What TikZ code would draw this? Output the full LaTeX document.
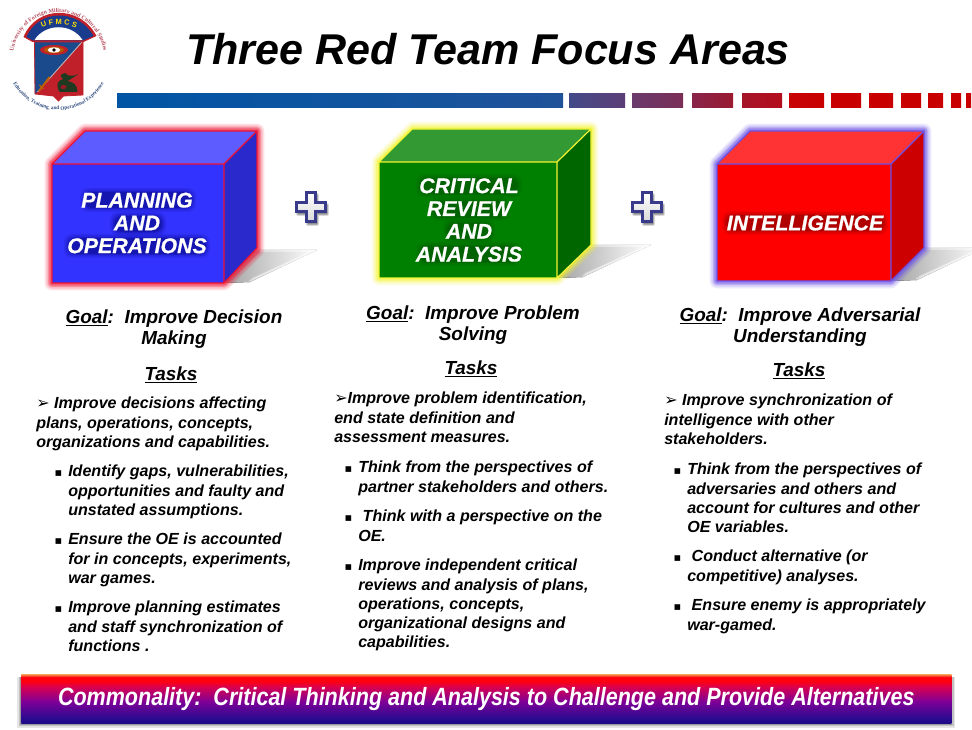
\documentclass[tikz,border=0pt]{standalone}
\usepackage{graphicx}
\usepackage{fontspec}
\setmainfont{Liberation Sans}
\newfontfamily\symf{DejaVu Sans}
\newfontfamily\logof{Liberation Serif}
\newfontface\cubeface{Liberation Sans Bold Italic}[FakeBold=0.6]
\usetikzlibrary{decorations.text}
\definecolor{bluefront}{HTML}{3333FF}\definecolor{bluetop}{HTML}{5C5CFF}\definecolor{blueside}{HTML}{2A2ACC}
\definecolor{greenfront}{HTML}{008000}\definecolor{greentop}{HTML}{339933}\definecolor{greenside}{HTML}{006600}
\definecolor{redfront}{HTML}{FF0000}\definecolor{redtop}{HTML}{FF3333}\definecolor{redside}{HTML}{CC0000}
\definecolor{edgeblue}{HTML}{6A50E8}\definecolor{edgeyellow}{HTML}{F4F430}\definecolor{edgered}{HTML}{F01030}
\definecolor{plusnavy}{HTML}{3A3A8C}
\definecolor{ban0}{HTML}{1E0A88}\definecolor{ban1}{HTML}{2E0A90}\definecolor{ban2}{HTML}{7E0098}
\definecolor{ban3}{HTML}{D80050}\definecolor{ban4}{HTML}{FF0010}\definecolor{ban5}{HTML}{F59A50}
\definecolor{logoblue}{HTML}{1A4A8C}\definecolor{logored}{HTML}{C0202A}\definecolor{logoarch}{HTML}{1A3C8C}
\definecolor{logoring}{HTML}{B85060}\definecolor{logolow}{HTML}{2F4C80}\definecolor{logogreen}{HTML}{1F3A20}
\pgfdeclareverticalshading{bannershade}{100bp}{
 color(0bp)=(ban0);
 color(25bp)=(ban0);
 color(31bp)=(ban1);
 color(47bp)=(ban2);
 color(62bp)=(ban3);
 color(68bp)=(ban4);
 color(72bp)=(ban4);
 color(75bp)=(ban5);
 color(100bp)=(ban5)}
\newcommand{\symb}[1]{{\symf\upshape\fontsize{12}{10}\selectfont #1}}
\newcommand{\subit}{\llap{{\symf\upshape\fontsize{8.5}{10}\selectfont ▪}\hspace{4.5pt}}}
\tikzset{
 bodytext/.style={anchor=north west,align=left,inner sep=0pt,font=\fontsize{12.05}{14.4}\selectfont\bfseries\itshape},
 goaltext/.style={align=center,inner sep=0pt,font=\fontsize{14.2}{16.2}\selectfont\bfseries\itshape},
 cubetext/.style={align=center,inner sep=0pt,text=white,font=\cubeface\fontsize{16}{17.1}\selectfont},
 segment/.style={draw=none}
}
% cube glow and faces: x0 y0 (front top-left), x1 y1 (front bottom-right), dx dy back offset, colours front/top/edge
\newcommand{\cube}[9]{%
 \fill[left color=gray!72,right color=white,draw=none] (#3,#4) -- (#3+#5,#4-#6) -- (#3+#5+60,#4-#6) -- (#3+26,#4-1) -- cycle;
 \draw[white,opacity=.4,line width=3pt] (#3+26,#4-1) -- (#3+#5+60,#4-#6) -- (#3+#5,#4-#6);
 \draw[white,opacity=.3,line width=1.5pt] (#3+28,#4-4) -- (#3+#5+58,#4-#6+1);
 \foreach \w/\o in {11/.12,8.5/.18,6/.25,4/.4}
  \draw[#9,line width=\w,opacity=\o,line join=round] (#1,#2) -- (#1+#5,#2-#6) -- (#3+#5,#2-#6) -- (#3+#5,#4-#6) -- (#3,#4) -- (#1,#4) -- cycle;
 \fill[#7] (#1,#2) rectangle (#3,#4);
 \fill[#8] (#1,#2) -- (#1+#5,#2-#6) -- (#3+#5,#2-#6) -- (#3,#2) -- cycle;
}
\newcommand{\band}[5]{% cx cy halfw halfh colour
 \foreach \g/\o in {5/.10,3.5/.14,2/.2,.8/.28}
  \fill[#5,opacity=\o,rounded corners=6] (#1-#3-\g,#2-#4-\g) rectangle (#1+#3+\g,#2+#4+\g);
}
\newcommand{\plusshape}{(-4.5,-14.5) -- (4.5,-14.5) -- (4.5,-4.5) -- (14.5,-4.5) -- (14.5,4.5) -- (4.5,4.5) -- (4.5,14.5) -- (-4.5,14.5) -- (-4.5,4.5) -- (-14.5,4.5) -- (-14.5,-4.5) -- (-4.5,-4.5) -- cycle}
\newcommand{\plusmark}[2]{%
 \begin{scope}[shift={(#1,#2)}]
 \begin{scope}[shift={(1.5,2.5)}]
 \draw[gray,opacity=.3,line width=3pt,line join=round,fill=gray] \plusshape;
 \draw[gray,opacity=.5,line width=1.5pt,line join=round,fill=gray] \plusshape;
 \end{scope}
 \draw[plusnavy,line width=1.6pt,top color=white,bottom color=gray!30,line join=miter] \plusshape;
 \end{scope}}
\begin{document}
\begin{tikzpicture}[x=0.75pt,y=-0.75pt]
\useasboundingbox[fill=white] (0,0) rectangle (972,730);

% ---------- logo
\begin{scope}[shift={(58.5,58)},x=0.75pt,y=0.75pt]
 \path[decorate,decoration={text along path,text align=center,
   text={|\logof\bfseries\fontsize{4.4}{6}\selectfont\color{logoring}|University of Foreign Military and Cultural Studies}}]
   (178:45.5) arc (178:2:45.5);
 \path[decorate,decoration={text along path,text align=center,
   text={|\logof\bfseries\fontsize{3.9}{6}\selectfont\color{logolow}|Education, Training, and Operational Experience}}]
   (200:52) arc (200:340:52);
 % arch
 \fill[logored] (-35,21) .. controls (-22,53) and (22,53) .. (38,22) -- (25,16) -- (-26,16) -- cycle;
 \fill[logoarch] (-32,21) .. controls (-20,49.5) and (20,49.5) .. (35,22) -- (24.5,17.5) -- (-25.5,17.5) -- cycle;
 \fill[white] (-24,18) .. controls (-13,35) and (13,35) .. (24,18) -- cycle;
 \path[decorate,decoration={text along path,text align=center,
   text={|\bfseries\fontsize{5.6}{6}\selectfont\color{yellow!80!orange}|U F M C S}}]
   (-24,26) .. controls (-10,36) and (10,36) .. (25,26);
 % shield
 \fill[logored] (-24,16) -- (24.5,16) -- (24.5,-37) -- (5,-38) -- (0,-43) -- (-5,-38) -- (-23.5,-36) -- cycle;
 \fill[logoblue] (-24,16) -- (23.5,16) -- (-23.5,-36) -- cycle;
 \draw[gray!50,line width=.6pt] (23.5,16) -- (-21,-34);
 \draw[logored,line width=.6pt] (-24,16) -- (24.5,16) -- (24.5,-37) -- (5,-38) -- (0,-43) -- (-5,-38) -- (-23.5,-36) -- cycle;
 \fill[logored] (-4.5,8) ellipse (14 and 5);
 \fill[orange!70!black] (-4.5,8) ellipse (10 and 3.3);
 \fill[white] (-4.5,8) ellipse (6.5 and 2.6);
 \fill[black] (-4.5,8) circle (1.9);
 \fill[logogreen] (1,-34) .. controls (-3,-27) and (-1,-22) .. (5,-21) .. controls (1,-19) and (1,-16) .. (7,-15) .. controls (8,-18) and (14,-19) .. (20,-16) .. controls (14,-20) and (11,-22) .. (9,-23) .. controls (15,-24) and (19,-27) .. (19,-34) -- cycle;
 \fill[logored!80!black] (5,-29) ellipse (3 and 2);
 \draw[orange!75!black,line width=1.4pt] (-19.5,-33) -- (-9,-19);
 \draw[orange!75!black,line width=1pt] (-15,-31) -- (-19,-27);
\end{scope}

% ---------- title
\node[inner sep=0pt,font=\fontsize{32.3}{38}\selectfont\bfseries\itshape] (title) at (488,49) {Three Red Team Focus Areas};

% ---------- header bar
\foreach \a/\b/\ca/\cb in {
 117/563/0055A5/1F5299,
 569/625/434A88/5C3E76,
 632/683/6A3A6C/7A2E56,
 692/733/88244A/9A1A30,
 742/782/A51528/B50D1C,
 789/824/C80505/C80000,
 831/861/C80000/C80000,
 869/893/C80000/C80000,
 901/921/C80000/C80000,
 928/943/C80000/C80000,
 951/961/C80000/C80000,
 966/971/C80000/C80000}{
 \definecolor{sa}{HTML}{\ca}\definecolor{sb}{HTML}{\cb}
 \fill[segment,left color=sa,right color=sb] (\a,94) rectangle (\b,108);
}

% ---------- cubes
\cube{52}{164}{224}{283}{33}{33}{bluefront}{bluetop}{edgered}
\fill[blueside] (224,164) -- (257,131) -- (257,248) -- (224,283) -- cycle;
\draw[edgered,line width=.9pt,line join=round] (52,164) -- (85,131) -- (257,131) -- (257,248) -- (224,283) -- (52,283) -- cycle (52,164) -- (224,164) -- (257,131) (224,164) -- (224,283);

\cube{379}{162}{557}{278}{34}{33}{greenfront}{greentop}{edgeyellow}
\fill[greenside] (557,162) -- (591,129) -- (591,245) -- (557,278) -- cycle;
\draw[edgeyellow,line width=.9pt,line join=round] (379,162) -- (412,129) -- (591,129) -- (591,245) -- (557,278) -- (379,278) -- cycle (379,162) -- (557,162) -- (591,129) (557,162) -- (557,278);

\cube{717}{164}{891}{281}{33}{33}{redfront}{redtop}{edgeblue}
\fill[redside] (891,164) -- (924,131) -- (924,248) -- (891,281) -- cycle;
\draw[edgeblue,line width=.9pt,line join=round] (717,164) -- (750,131) -- (924,131) -- (924,248) -- (891,281) -- (717,281) -- cycle (717,164) -- (891,164) -- (924,131) (891,164) -- (891,281);

% ---------- halos and cube labels
\band{138}{200}{53}{7}{blue!45!black}
\band{138}{224}{23}{7}{blue!45!black}
\band{137}{246}{68}{7}{blue!45!black}
\node[cubetext] (plan) at (137,223) {PLANNING\\AND\\OPERATIONS};

\band{469}{186}{48}{7}{black!70!green}
\band{469}{209}{36}{7}{black!70!green}
\band{469}{231}{21}{7}{black!70!green}
\band{469}{254}{48}{7}{black!70!green}
\node[cubetext] (crit) at (469,220) {CRITICAL\\REVIEW\\AND\\ANALYSIS};

\band{805}{223}{78}{7}{red!45!black}
\node[cubetext] (intel) at (805,223) {INTELLIGENCE};

% ---------- plus signs
\plusmark{311}{207}
\plusmark{647}{207}

% ---------- column 1
\node[goaltext] (goal1) at (174,329) {\underline{Goal}:\ \ Improve Decision\\Making};
\node[goaltext] (tasks1) at (171,375) {\underline{Tasks}};
\node[bodytext] (a1) at (36,397) {\symb{➢} Improve decisions affecting\\plans, operations, concepts,\\organizations and capabilities.};
\node[bodytext] (a2) at (68,465) {\subit Identify gaps, vulnerabilities,\\opportunities and faulty and\\unstated assumptions.};
\node[bodytext] (a3) at (68,533) {\subit Ensure the OE is accounted\\for in concepts, experiments,\\war games.};
\node[bodytext] (a4) at (68,601) {\subit Improve planning estimates\\and staff synchronization of\\functions .};

% ---------- column 2
\node[goaltext] (goal2) at (473,325) {\underline{Goal}:\ \ Improve Problem\\Solving};
\node[goaltext] (tasks2) at (471,369) {\underline{Tasks}};
\node[bodytext] (b1) at (334,392) {\symb{➢}Improve problem identification,\\end state definition and\\assessment measures.};
\node[bodytext] (b2) at (358,461) {\subit Think from the perspectives of\\partner stakeholders and others.};
\node[bodytext] (b3) at (358,510) {\subit\ Think with a perspective on the\\OE.};
\node[bodytext] (b4) at (358,559) {\subit Improve independent critical\\reviews and analysis of plans,\\operations, concepts,\\organizational designs and\\capabilities.};

% ---------- column 3
\node[goaltext] (goal3) at (800,327) {\underline{Goal}:\ \ Improve Adversarial\\Understanding};
\node[goaltext] (tasks3) at (799,371) {\underline{Tasks}};
\node[bodytext] (c1) at (664,394) {\symb{➢} Improve synchronization of\\intelligence with other\\stakeholders.};
\node[bodytext] (c2) at (687,463) {\subit Think from the perspectives of\\adversaries and others and\\account for cultures and other\\OE variables.};
\node[bodytext] (c3) at (687,550) {\subit\ Conduct alternative (or\\competitive) analyses.};
\node[bodytext] (c4) at (687,599) {\subit\ Ensure enemy is appropriately\\war-gamed.};

% ---------- banner
\foreach \g/\o in {4/.10,2.5/.15,1/.2}
 \fill[black,opacity=\o] (21-\g,677) rectangle (951+\g,724+\g);
\node[minimum width=697.5pt,minimum height=36.75pt,inner sep=0pt,shading=bannershade,anchor=north west,
      text=white,font=\bfseries\itshape] (banner) at (21,674)
 {\raisebox{-1pt}{\scalebox{1.035}[1.2]{\fontsize{15.6}{18}\selectfont Commonality:\ \ Critical Thinking and Analysis to Challenge and Provide Alternatives}}};
\end{tikzpicture}
\end{document}
